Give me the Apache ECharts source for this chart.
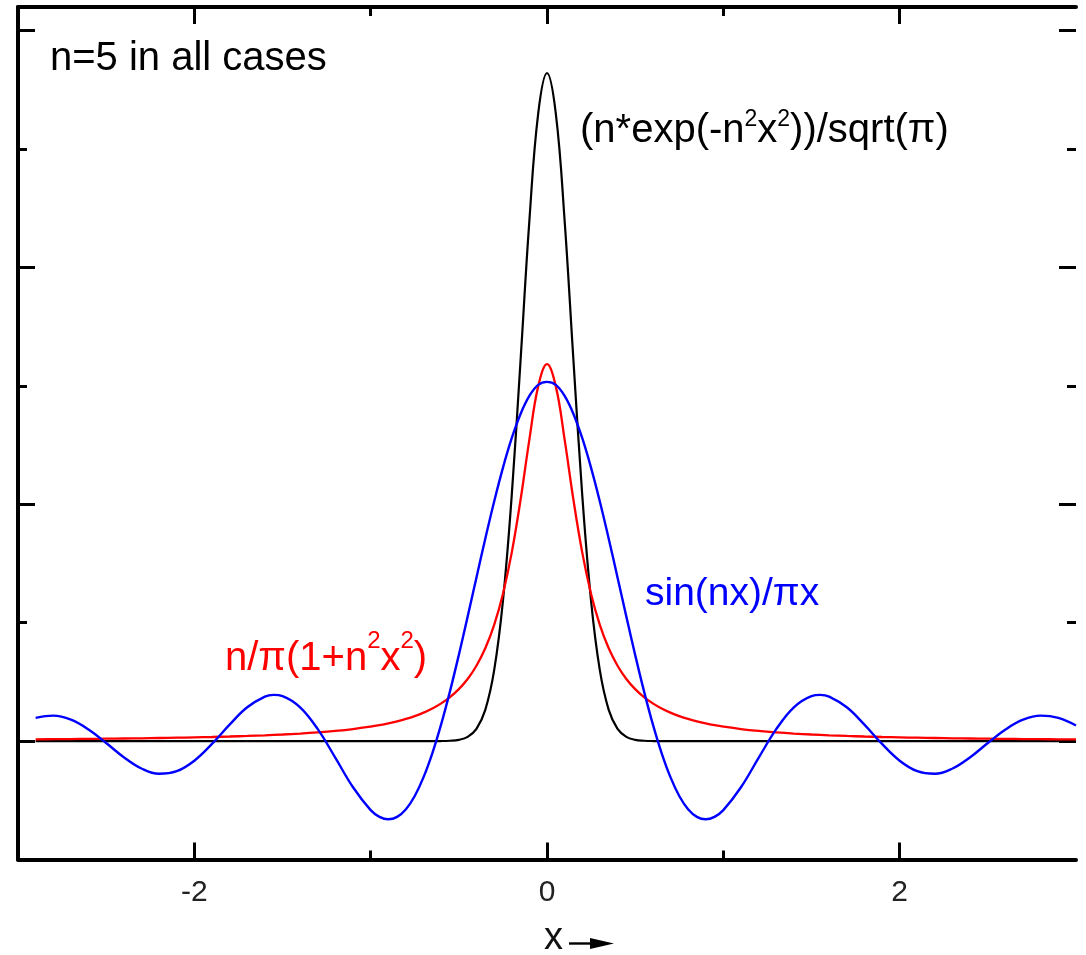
<!DOCTYPE html>
<html><head><meta charset="utf-8">
<script src="https://cdn.jsdelivr.net/npm/echarts@6/dist/echarts.min.js"></script>
<style>html,body{margin:0;padding:0;background:#fff}#c{width:1086px;height:955px}</style>
</head><body><div id="c"></div>
<script>
// ---- data ----
const blackX = [-2.9, -1.0, -0.7, -0.6, -0.55, -0.5, -0.45, -0.4, -0.35, -0.3, -0.25, -0.2, -0.15, -0.1, -0.05, 0,
                0.05, 0.1, 0.15, 0.2, 0.25, 0.3, 0.35, 0.4, 0.45, 0.5, 0.55, 0.6, 0.7, 1.0, 3.0];
const blackY = [0, 0, 0, 0.0003, 0.0015, 0.0054, 0.0179, 0.0517, 0.1319, 0.2973, 0.5913, 1.0378, 1.6073, 2.1969, 2.6500, 2.8209,
                2.6500, 2.1969, 1.6073, 1.0378, 0.5913, 0.2973, 0.1319, 0.0517, 0.0179, 0.0054, 0.0015, 0.0003, 0, 0, 0];

const redX = [-2.9, -2.8, -2.7, -2.6, -2.5, -2.4, -2.3, -2.2, -2.1, -2.0, -1.9, -1.8, -1.7, -1.6, -1.5, -1.4, -1.3, -1.2, -1.1, -1.0,
              -0.95, -0.9, -0.85, -0.8, -0.75, -0.7, -0.65, -0.6, -0.55, -0.5, -0.45, -0.4, -0.35, -0.3, -0.25, -0.2, -0.15, -0.1, -0.05,
              0,
              0.05, 0.1, 0.15, 0.2, 0.25, 0.3, 0.35, 0.4, 0.45, 0.5, 0.55, 0.6, 0.65, 0.7, 0.75, 0.8, 0.85, 0.9, 0.95,
              1.0, 1.1, 1.2, 1.3, 1.4, 1.5, 1.6, 1.7, 1.8, 1.9, 2.0, 2.1, 2.2, 2.3, 2.4, 2.5, 2.6, 2.7, 2.8, 2.9, 3.0];
const redY = [0.0075, 0.0081, 0.0087, 0.0094, 0.0101, 0.0110, 0.0119, 0.0130, 0.0143, 0.0158, 0.0174, 0.0194, 0.0217, 0.0245, 0.0278, 0.0318, 0.0368, 0.0430, 0.0509, 0.0612,
              0.0675, 0.0749, 0.0835, 0.0936, 0.1057, 0.1201, 0.1376, 0.1592, 0.1859, 0.2195, 0.2625, 0.3183, 0.3918, 0.4897, 0.6211, 0.7958, 1.0186, 1.2732, 1.4979,
              1.5915,
              1.4979, 1.2732, 1.0186, 0.7958, 0.6211, 0.4897, 0.3918, 0.3183, 0.2625, 0.2195, 0.1859, 0.1592, 0.1376, 0.1201, 0.1057, 0.0936, 0.0835, 0.0749, 0.0675,
              0.0612, 0.0509, 0.0430, 0.0368, 0.0318, 0.0278, 0.0245, 0.0217, 0.0194, 0.0174, 0.0158, 0.0143, 0.0130, 0.0119, 0.0110, 0.0101, 0.0094, 0.0087, 0.0081, 0.0075, 0.0070];

const blueX = [-2.9, -2.8, -2.7, -2.6, -2.5, -2.4, -2.3, -2.2, -2.1, -2.0, -1.9, -1.8, -1.7, -1.6, -1.55, -1.5, -1.4, -1.3, -1.2, -1.1, -1.0,
               -0.95, -0.9, -0.85, -0.8, -0.75, -0.7, -0.65, -0.6, -0.55, -0.5, -0.45, -0.4, -0.35, -0.3, -0.25, -0.2, -0.15, -0.1, -0.05,
               0,
               0.05, 0.1, 0.15, 0.2, 0.25, 0.3, 0.35, 0.4, 0.45, 0.5, 0.55, 0.6, 0.65, 0.7, 0.75, 0.8, 0.85, 0.9, 0.95,
               1.0, 1.1, 1.2, 1.3, 1.4, 1.5, 1.55, 1.6, 1.7, 1.8, 1.9, 2.0, 2.1, 2.2, 2.3, 2.4, 2.5, 2.6, 2.7, 2.8, 2.9, 3.0];
const blueY = [0.0980, 0.1075, 0.0905, 0.0491, -0.0080, -0.0680, -0.1157, -0.1382, -0.1273, -0.0827, -0.0120, 0.0696, 0.1428, 0.1879, 0.1951, 0.1901, 0.1427, 0.0503, -0.0708, -0.1950, -0.2915,
               -0.3198, -0.3301, -0.3201, -0.2876, -0.2317, -0.1523, -0.0506, 0.0715, 0.2110, 0.3639, 0.5256, 0.6910, 0.8546, 1.0108, 1.1539, 1.2789, 1.3814, 1.4574, 1.5041,
               1.517,
               1.5041, 1.4574, 1.3814, 1.2789, 1.1539, 1.0108, 0.8546, 0.6910, 0.5256, 0.3639, 0.2110, 0.0715, -0.0506, -0.1523, -0.2317, -0.2876, -0.3201, -0.3301, -0.3198,
               -0.2915, -0.1950, -0.0708, 0.0503, 0.1427, 0.1901, 0.1951, 0.1879, 0.1428, 0.0696, -0.0120, -0.0827, -0.1273, -0.1382, -0.1157, -0.0680, -0.0080, 0.0491, 0.0905, 0.1075, 0.0980, 0.0659];

const xMajorTicks = [-2, 0, 2];
const xMinorTicks = [-1, 1];
const xTickLabels = [-2, 0, 2];
const yMajorTicks = [0, 1, 2, 3];
const yMinorTicks = [0.5, 1.5, 2.5];

// ---- chart ----
const FONT = "'Liberation Sans', Arial, sans-serif";
const pairs = (xs, ys) => xs.map((x, i) => [x, ys[i]]);
const tickStyle = { color: '#000', width: 3 };

function xAx(pos, ticks, len, showLine, labels) {
  return {
    type: 'value', min: -3, max: 3, position: pos,
    axisLine: { show: showLine, onZero: false, lineStyle: { color: '#000', width: 4 } },
    axisTick: { show: true, inside: true, length: len, customValues: ticks, lineStyle: tickStyle },
    axisLabel: labels ? { show: true, customValues: labels, fontSize: 30, lineHeight: 30, margin: 18, color: '#222', fontFamily: FONT } : { show: false },
    splitLine: { show: false }
  };
}
function yAx(pos, ticks, len, showLine) {
  return {
    type: 'value', min: -0.5, max: 3.1, position: pos,
    axisLine: { show: showLine, onZero: false, lineStyle: { color: '#000', width: 4 } },
    axisTick: { show: true, inside: true, length: len, customValues: ticks, lineStyle: tickStyle },
    axisLabel: { show: false },
    splitLine: { show: false }
  };
}

const chart = echarts.init(document.getElementById('c'), null, { renderer: 'canvas' });
chart.setOption({
  animation: false,
  backgroundColor: '#fff',
  grid: { left: 18, right: 10, top: 7, bottom: 95.5, containLabel: false },
  xAxis: [
    xAx('bottom', xMajorTicks, 17, true, xTickLabels),
    xAx('bottom', xMinorTicks, 9, false, null),
    xAx('top', xMajorTicks, 17, true, null),
    xAx('top', xMinorTicks, 9, false, null)
  ],
  yAxis: [
    yAx('left', yMajorTicks, 17, true),
    yAx('left', yMinorTicks, 9, false),
    yAx('right', yMajorTicks, 17, false),
    yAx('right', yMinorTicks, 9, false)
  ],
  series: [
    { type: 'line', name: 'gauss', xAxisIndex: 0, yAxisIndex: 0, data: pairs(blackX, blackY), smooth: 0.4, showSymbol: false, symbol: 'none',
      lineStyle: { color: '#000', width: 2.2 }, clip: true, z: 2 },
    { type: 'line', name: 'lorentz', xAxisIndex: 0, yAxisIndex: 0, data: pairs(redX, redY), smooth: 0.4, showSymbol: false, symbol: 'none',
      lineStyle: { color: '#ff0000', width: 2.3 }, clip: true, z: 3 },
    { type: 'line', name: 'sinc', xAxisIndex: 0, yAxisIndex: 0, data: pairs(blueX, blueY), smooth: 0.4, showSymbol: false, symbol: 'none',
      lineStyle: { color: '#0000ff', width: 2.4 }, clip: true, z: 4 }
  ],
  graphic: [
    { type: 'text', left: 50, top: 39, style: { text: 'n=5 in all cases', font: '40px ' + FONT, fill: '#000' } },
    { type: 'text', x: 580, y: 131, style: {
        text: '{b|(n*exp(-n}{s|2}{b|x}{s|2}{b|))/sqrt(π)}', align: 'left', verticalAlign: 'middle',
        rich: { b: { fontSize: 40, fontFamily: FONT, lineHeight: 46, fill: '#000' },
                s: { fontSize: 23, fontFamily: FONT, lineHeight: 23, verticalAlign: 'top', fill: '#000' } } } },
    { type: 'text', x: 645, y: 594, style: { text: 'sin(nx)/πx', font: '39px ' + FONT, fill: '#0000ff', align: 'left', verticalAlign: 'middle' } },
    { type: 'text', x: 225, y: 659, style: {
        text: '{b|n/π(1+n}{s|2}{b|x}{s|2}{b|)}', align: 'left', verticalAlign: 'middle',
        rich: { b: { fontSize: 40, fontFamily: FONT, lineHeight: 59, fill: '#ff0000' },
                s: { fontSize: 24, fontFamily: FONT, lineHeight: 24, verticalAlign: 'top', fill: '#ff0000' } } } },
    { type: 'text', x: 544, y: 939, style: { text: 'x', font: '38px ' + FONT, fill: '#111', align: 'left', verticalAlign: 'middle' } },
    { type: 'line', shape: { x1: 569, y1: 943.5, x2: 592, y2: 943.5 }, style: { stroke: '#000', lineWidth: 2.4 } },
    { type: 'polygon', shape: { points: [[590, 938], [614, 943.5], [590, 949]] }, style: { fill: '#000' } }
  ]
});
</script></body></html>
